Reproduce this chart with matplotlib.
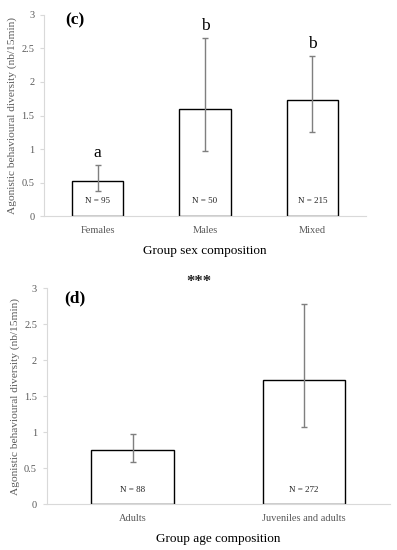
import matplotlib.pyplot as plt

# ---------------- Data ----------------
sex_groups = ["Females", "Males", "Mixed"]
sex_means = [0.53, 1.60, 1.73]
sex_err_low = [0.37, 0.97, 1.25]
sex_err_high = [0.76, 2.66, 2.39]
sex_n = ["N = 95", "N = 50", "N = 215"]
sex_letters = ["a", "b", "b"]

age_groups = ["Adults", "Juveniles and adults"]
age_means = [0.75, 1.72]
age_err_low = [0.59, 1.08]
age_err_high = [0.98, 2.78]
age_n = ["N = 88", "N = 272"]

y_ticks = [0, 0.5, 1, 1.5, 2, 2.5, 3]
y_tick_labels = ["0", "0.5", "1", "1.5", "2", "2.5", "3"]

ylab = "Agonistic behavioural diversity (nb/15min)"

plt.rcParams['font.family'] = ['Liberation Serif', 'DejaVu Serif']

fig = plt.figure(figsize=(3.97, 5.5), dpi=100)
ax1 = fig.add_axes([0.111, 0.607, 0.811, 0.366])
ax2 = fig.add_axes([0.118, 0.083, 0.864, 0.393])


def draw_panel(ax, groups, means, lo, hi, nlabels, n_y):
    x = list(range(len(groups)))
    yerr = [[m - l for m, l in zip(means, lo)], [h - m for m, h in zip(means, hi)]]
    ax.bar(x, means, width=0.48, color="white", edgecolor="black", linewidth=1.0, zorder=2)
    ax.errorbar(x, means, yerr=yerr, fmt="none", ecolor="#7f7f7f", elinewidth=1.0,
                capsize=2.2, capthick=1.0, zorder=3)
    for xi, t in zip(x, nlabels):
        ax.text(xi, n_y, t, ha="center", va="center", fontsize=6.5, color="#222222", zorder=4)
    ax.set_xlim(-0.5, len(groups) - 0.5)
    ax.set_ylim(0, 3)
    ax.set_xticks(x)
    ax.set_xticklabels(groups, fontsize=7.5, color="#595959")
    ax.set_yticks(y_ticks)
    ax.set_yticklabels(y_tick_labels, fontsize=7.5, color="#595959")
    ax.tick_params(axis="x", length=0, pad=7)
    ax.tick_params(axis="y", length=3, color="#d9d9d9", pad=4)
    for s in ["top", "right"]:
        ax.spines[s].set_visible(False)
    ax.spines["left"].set_color("#d9d9d9")
    ax.spines["bottom"].set_color("#d9d9d9")
    ax.set_ylabel(ylab, fontsize=8.2, color="#595959", labelpad=3)


draw_panel(ax1, sex_groups, sex_means, sex_err_low, sex_err_high, sex_n, 0.22)
for xi, (h, t) in enumerate(zip(sex_err_high, sex_letters)):
    ax1.text(xi, h + 0.06, t, ha="center", va="bottom", fontsize=12.5, color="black")
ax1.text(0.065, 1.01, "(c)", transform=ax1.transAxes, fontsize=12.5, fontweight="bold",
         ha="left", va="top")
ax1.set_xlabel("Group sex composition", fontsize=9.5, labelpad=7)

draw_panel(ax2, age_groups, age_means, age_err_low, age_err_high, age_n, 0.2)
ax2.text(0.05, 0.99, "(d)", transform=ax2.transAxes, fontsize=12.5, fontweight="bold",
         ha="left", va="top")
ax2.set_xlabel("Group age composition", fontsize=9.5, labelpad=7)
fig.text(0.502, 0.488, "***", ha="center", va="center", fontsize=12, fontweight="bold",
         color="#222222")

fig.savefig("out.png", dpi=100)
